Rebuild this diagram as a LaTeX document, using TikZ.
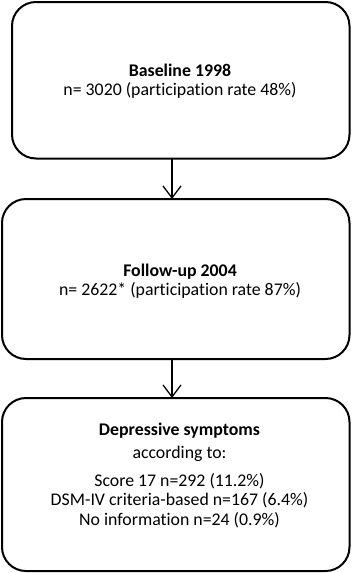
\documentclass[tikz,border=0pt]{standalone}
\usepackage{fontspec}
\setmainfont{Carlito}[Ligatures=CommonOff]
\usetikzlibrary{arrows.meta}
\begin{document}
\begin{tikzpicture}[x=1pt,y=-1pt,
  box/.style={draw,line width=2pt,rounded corners=24pt},
  lbl/.style={anchor=base,font=\fontsize{17.8}{20}\selectfont,inner sep=0pt},
  arr/.style={line width=1.3pt,-{Straight Barb[length=12pt,width=18pt,line width=1.3pt]}}]
\useasboundingbox (0,0) rectangle (360,573);
\draw[box] (12,2) rectangle (349.5,158.5);
\draw[box] (2,199) rectangle (349.5,359);
\draw[box] (2,398) rectangle (349.5,571);
\node[lbl] (t1a) at (180,76) {\textbf{Baseline 1998}};
\node[lbl] (t1b) at (180,95.5) {n= 3020 (participation rate 48\%)};
\node[lbl] (t2a) at (180,276) {\textbf{Follow-up 2004}};
\node[lbl] (t2b) at (180,295.5) {n= 2622* (participation rate 87\%)};
\node[lbl] (t3a) at (179.5,435.5) {\textbf{Depressive symptoms}};
\node[lbl] (t3b) at (179.5,458.5) {according to:};
\node[lbl] (t3c) at (179.5,486) {Score 17 n=292 (11.2\%)};
\node[lbl] (t3d) at (179.5,505.5) {DSM-IV criteria-based n=167 (6.4\%)};
\node[lbl] (t3e) at (179.5,525.5) {No information n=24 (0.9\%)};
\coordinate (a1) at (172,158.5);
\coordinate (a2) at (172,199);
\coordinate (a3) at (172,359);
\coordinate (a4) at (172,398);
\draw[arr] (a1) -- (a2);
\draw[arr] (a3) -- (a4);
\end{tikzpicture}
\end{document}
